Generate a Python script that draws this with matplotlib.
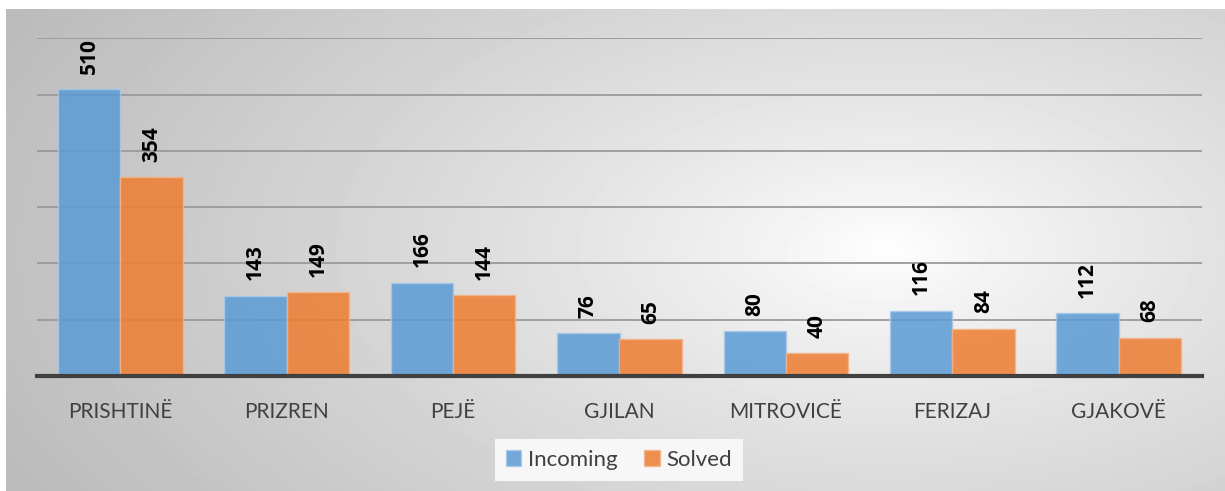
import numpy as np
import matplotlib.pyplot as plt
from matplotlib.patches import Patch

# --- Dados por município ---
municipios = ["PRISHTINË", "PRIZREN", "PEJË", "GJILAN", "MITROVICË", "FERIZAJ", "GJAKOVË"]
incoming = [510, 143, 166, 76, 80, 116, 112]
solved = [354, 149, 144, 65, 40, 84, 68]
series_labels = ["Incoming", "Solved"]

COR_AZUL = "#5b9bd5"
COR_LARANJA = "#ed7d31"
COR_TEXTO = "#404040"

plt.rcParams["font.family"] = ["Lato", "DejaVu Sans"]

W, H = 1225, 491
fig = plt.figure(figsize=(W / 100, H / 100), dpi=100)
fig.patch.set_facecolor("white")

# Fundo com gradiente radial (branco no centro, cinza nas bordas)
bg = fig.add_axes([6 / W, 0, (W - 6) / W, (H - 9) / H], zorder=0)
yy, xx = np.mgrid[0:482, 0:1219]
cx, cy = 880, 240
r = np.sqrt(((xx - cx) / 1000.0) ** 2 + ((yy - cy) / 520.0) ** 2)
r = np.clip(r / r.max(), 0, 1)
cinza = 1.0 - 0.27 * r ** 0.8
bg.imshow(cinza, cmap="gray", vmin=0, vmax=1, aspect="auto", interpolation="bilinear")
bg.axis("off")

ax = fig.add_axes([37 / W, 1 - 376 / H, (1202 - 37) / W, (376 - 38.4) / H], zorder=1)
ax.patch.set_alpha(0)

x = np.arange(len(municipios))
largura = 0.375
b1 = ax.bar(x - largura / 2, incoming, largura, color=COR_AZUL, alpha=0.85,
            edgecolor="#a9c8e8", linewidth=1.0, zorder=3)
b2 = ax.bar(x + largura / 2, solved, largura, color=COR_LARANJA, alpha=0.85,
            edgecolor="#f4b48a", linewidth=1.0, zorder=3)

# Rótulos de valor, verticais, acima de cada barra
for barras in (b1, b2):
    for b in barras:
        ax.annotate(f"{int(b.get_height())}",
                    (b.get_x() + b.get_width() / 2, b.get_height()),
                    xytext=(0, 11), textcoords="offset points",
                    rotation=90, ha="center", va="bottom",
                    family=["Open Sans", "DejaVu Sans"],
                    fontsize=15, fontweight="bold", color="black", zorder=5)

ax.set_xlim(-0.5, len(municipios) - 0.5)
ax.set_ylim(0, 600)
ax.set_yticks(np.arange(100, 601, 100))
ax.yaxis.grid(True, color="#9a9a9a", linewidth=1.3, zorder=4)
ax.tick_params(axis="y", left=False, labelleft=False)
ax.tick_params(axis="x", bottom=False, pad=15, labelsize=15, labelcolor=COR_TEXTO)
ax.set_xticks(x)
ax.set_xticklabels(municipios)
for lado in ("top", "right", "left"):
    ax.spines[lado].set_visible(False)
ax.spines["bottom"].set_color("#404040")
ax.spines["bottom"].set_linewidth(3)
ax.spines["bottom"].set_zorder(6)

handles = [Patch(facecolor=COR_AZUL, alpha=0.85, edgecolor="#a9c8e8"),
           Patch(facecolor=COR_LARANJA, alpha=0.85, edgecolor="#f4b48a")]
leg = fig.legend(handles, series_labels, loc="center",
                 bbox_to_anchor=(619 / W, 1 - 460 / H), ncol=2,
                 fontsize=16, frameon=True, fancybox=False,
                 handlelength=0.7, handleheight=0.7, handletextpad=0.3,
                 columnspacing=1.2, borderpad=0.5)
leg.get_frame().set_facecolor("#f7f7f7")
leg.get_frame().set_edgecolor("none")
leg.get_frame().set_alpha(1)
for t in leg.get_texts():
    t.set_color(COR_TEXTO)

fig.savefig("out.png", dpi=100)
